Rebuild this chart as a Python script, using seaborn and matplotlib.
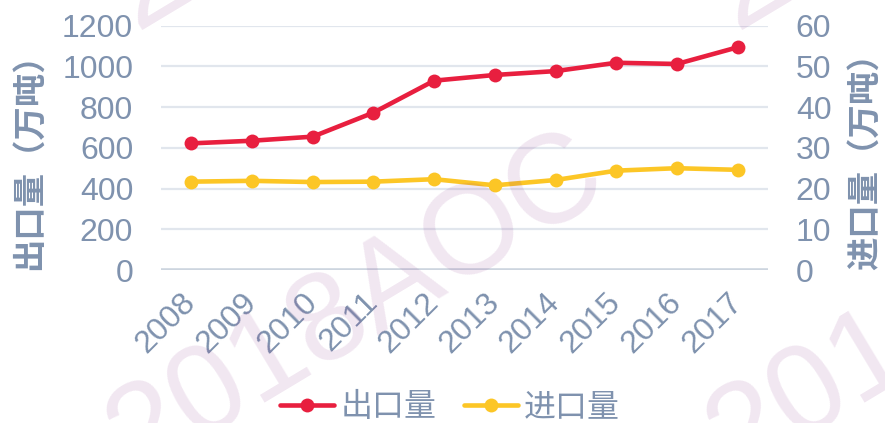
import matplotlib
matplotlib.use("Agg")
import matplotlib.pyplot as plt
import seaborn as sns
import pandas as pd
from matplotlib.lines import Line2D

# ---- data ----
years = ["2008", "2009", "2010", "2011", "2012", "2013", "2014", "2015", "2016", "2017"]
export_vals = [622, 635, 655, 773, 930, 958, 977, 1018, 1012, 1094]   # 出口量 (万吨), left axis
import_vals = [21.7, 21.9, 21.6, 21.7, 22.3, 20.8, 22.1, 24.4, 25.0, 24.6]  # 进口量 (万吨), right axis
left_ticks = [0, 200, 400, 600, 800, 1000, 1200]
right_ticks = [0, 10, 20, 30, 40, 50, 60]
series_names = ["出口量", "进口量"]
left_label = "出口量（万吨）"
right_label = "进口量（万吨）"
watermark = "2018AOC"

df = pd.DataFrame({"year": years, "export": export_vals, "import": import_vals})

sns.set_theme(style="white")
plt.rcParams["font.family"] = ["Liberation Sans", "Noto Sans CJK SC", "DejaVu Sans"]

TXT = "#7F92AE"
RED = "#E81F3F"
YEL = "#FCC626"
GRID = "#E1E6ED"
ZERO = "#CDD5DF"
W, H = 885, 423

fig = plt.figure(figsize=(W / 100, H / 100), dpi=100)
ax = fig.add_axes([161 / W, 1 - 270 / H, (768 - 161) / W, (270 - 25.7) / H])
ax2 = ax.twinx()

sns.lineplot(data=df, x="year", y="export", ax=ax, color=RED, marker="o",
             markersize=10, markeredgewidth=0, linewidth=3.3, sort=False, zorder=5)
sns.lineplot(data=df, x="year", y="import", ax=ax2, color=YEL, marker="o",
             markersize=10, markeredgewidth=0, linewidth=3.3, sort=False, zorder=5)

ax.set_xlim(-0.5, len(years) - 0.5)
ax.set_ylim(0, 1200)
ax2.set_ylim(0, 60)
ax.set_yticks(left_ticks)
ax2.set_yticks(right_ticks)

# gridlines
for t in left_ticks[1:]:
    ax.axhline(t, color=GRID, linewidth=1.6, zorder=0)
ax.axhline(0, color=ZERO, linewidth=2.6, zorder=1)

for a in (ax, ax2):
    for s in a.spines.values():
        s.set_visible(False)
    a.grid(False)
    a.set_xlabel("")
    a.set_ylabel("")
    a.tick_params(length=0, colors=TXT, labelsize=23)
ax.tick_params(axis="y", pad=20)
ax2.tick_params(axis="y", pad=20)
ax.tick_params(axis="x", pad=20)

ax.set_xticks(range(len(years)))
ax.set_xticklabels(years, rotation=45, ha="right", va="center", rotation_mode="anchor",
                   fontsize=23, color=TXT)
for lab in ax.get_xticklabels():
    lab.set_fontfamily(["Liberation Sans"])

ax.set_ylabel(left_label, fontsize=24, fontweight="bold", color=TXT,
              fontfamily=["Noto Sans CJK SC"])
ax.yaxis.set_label_coords(-0.1895, 0.48)
ax2.set_ylabel(right_label, fontsize=24, fontweight="bold", color=TXT,
               fontfamily=["Noto Sans CJK SC"], rotation=90)
ax2.yaxis.set_label_coords(1.133, 0.48)

# legend
handles = [
    Line2D([], [], color=RED, marker="o", markersize=10, markeredgewidth=0, linewidth=3.3),
    Line2D([], [], color=YEL, marker="o", markersize=10, markeredgewidth=0, linewidth=3.3),
]
leg = fig.legend(handles, series_names, loc="center", bbox_to_anchor=(450 / W, 1 - 407 / H),
                 ncol=2, frameon=False, handlelength=1.7, handletextpad=0.2,
                 columnspacing=0.85, prop={"family": ["Noto Sans CJK SC"], "size": 23})
for t in leg.get_texts():
    t.set_color(TXT)

# watermark tiles
for cx, cy in [(350, 294), (950, 294), (350, -152), (950, -152)]:
    fig.text(cx / W, 1 - cy / H, watermark, fontsize=91, rotation=31,
             ha="center", va="center_baseline", rotation_mode="anchor",
             color=(0.55, 0.2, 0.55), alpha=0.12, zorder=20,
             fontfamily=["Liberation Sans"])

fig.savefig("out.png", dpi=100, facecolor="white")
